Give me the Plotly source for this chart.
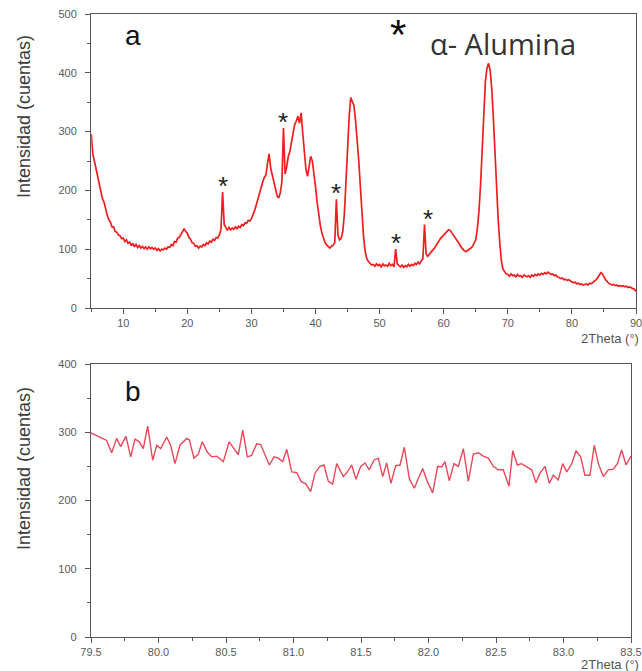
import plotly.graph_objects as go
import numpy as np

# ---- Pattern (a): full scan 5-90 deg, 0.25 deg step ----
scan_start_a = 5.0
scan_step_a = 0.25
counts_a = [
    # 5.00 - 9.75
    296, 262, 250, 236, 226, 210, 200, 186, 180, 166, 158, 150, 146, 138, 138, 130, 129, 124, 123, 118,
    # 10.00 - 14.75
    119, 113, 116, 110, 112, 106, 110, 104, 108, 103, 106, 102, 105, 101, 104, 100, 104, 101, 103, 100,
    # 15.00 - 19.75
    102, 98, 101, 97, 100, 99, 102, 100, 104, 103, 108, 106, 113, 112, 119, 120, 126, 131, 135, 130,
    # 20.00 - 24.75
    127, 120, 117, 111, 110, 105, 106, 102, 105, 104, 108, 106, 111, 109, 114, 112, 117, 115, 120, 119,
    # 25.00 - 29.75
    124, 134, 197, 142, 136, 132, 137, 133, 136, 134, 138, 135, 139, 137, 142, 140, 145, 144, 149, 148,
    # 30.00 - 34.75
    152, 158, 166, 175, 186, 195, 206, 214, 222, 226, 245, 262, 238, 226, 210, 198, 191, 187, 196, 214,
    # 35.00 - 39.75
    306, 228, 240, 258, 266, 282, 298, 312, 318, 326, 314, 332, 298, 266, 236, 224, 240, 258, 250, 230,
    # 40.00 - 44.75
    206, 180, 158, 140, 127, 118, 111, 107, 104, 102, 105, 107, 111, 185, 124, 116, 118, 130, 160, 220,
    # 45.00 - 49.75
    285, 326, 358, 350, 344, 318, 288, 250, 205, 160, 121, 96, 84, 79, 76, 73, 74, 71, 75, 72,
    # 50.00 - 54.75
    74, 70, 75, 72, 73, 71, 76, 72, 74, 70, 100, 75, 72, 70, 73, 69, 72, 70, 74, 71,
    # 55.00 - 59.75
    74, 72, 76, 74, 78, 75, 80, 84, 142, 92, 88, 92, 95, 98, 101, 106, 110, 114, 118, 121,
    # 60.00 - 64.75
    124, 128, 131, 133, 132, 128, 124, 121, 118, 112, 108, 103, 100, 97, 96, 98, 99, 102, 105, 110,
    # 65.00 - 69.75
    116, 135, 165, 210, 265, 330, 385, 408, 416, 404, 372, 322, 262, 200, 150, 110, 80, 66, 61, 58,
    # 70.00 - 74.75
    57, 54, 58, 55, 56, 53, 57, 54, 55, 52, 56, 54, 53, 55, 52, 56, 54, 57, 55, 58,
    # 75.00 - 79.75
    56, 59, 57, 60, 58, 61, 59, 57, 58, 55, 56, 53, 52, 50, 51, 48, 49, 47, 48, 46,
    # 80.00 - 84.75
    45, 43, 44, 41, 42, 40, 41, 39, 40, 41, 39, 42, 41, 43, 45, 48, 51, 55, 60, 58,
    # 85.00 - 89.75
    52, 48, 45, 42, 41, 39, 40, 38, 39, 37, 38, 37, 38, 36, 37, 35, 36, 34, 33, 32,
    # 90.00
    28,
]
two_theta_a = scan_start_a + scan_step_a * np.arange(len(counts_a))

# alpha-alumina reflections marked with an asterisk
alumina_2theta = [25.5, 35.0, 43.25, 52.5, 57.5]
alumina_counts = [197, 306, 185, 100, 142]

# ---- Pattern (b): detail 79.5-83.5 deg ----
two_theta_b = [
    79.500, 79.616, 79.653, 79.690, 79.720, 79.759, 79.794, 79.826, 79.858, 79.887,
    79.920, 79.957, 79.987, 80.016, 80.061, 80.090, 80.122, 80.159, 80.209, 80.228,
    80.263, 80.295, 80.324, 80.361, 80.394, 80.431, 80.480, 80.524, 80.559, 80.591,
    80.624, 80.658, 80.690, 80.727, 80.757, 80.789, 80.821, 80.856, 80.887, 80.920,
    80.950, 80.987, 81.024, 81.056, 81.093, 81.127, 81.159, 81.196, 81.226, 81.258,
    81.290, 81.320, 81.344, 81.369, 81.399, 81.431, 81.463, 81.498, 81.530, 81.561,
    81.596, 81.628, 81.661, 81.690, 81.722, 81.757, 81.789, 81.821, 81.858, 81.895,
    81.924, 81.957, 81.991, 82.031, 82.068, 82.098, 82.122, 82.154, 82.189, 82.221,
    82.258, 82.295, 82.332, 82.369, 82.406, 82.443, 82.480, 82.517, 82.554, 82.596,
    82.624, 82.658, 82.690, 82.727, 82.764, 82.796, 82.826, 82.863, 82.895, 82.924,
    82.961, 82.994, 83.024, 83.061, 83.093, 83.127, 83.159, 83.196, 83.228, 83.258,
    83.295, 83.332, 83.369, 83.399, 83.431, 83.463, 83.500,
]
counts_b = [
    299, 288, 270, 291, 279, 294, 264, 290, 286, 276,
    309, 259, 281, 276, 293, 281, 254, 281, 291, 289,
    262, 268, 286, 271, 264, 265, 257, 286, 276, 267,
    303, 264, 266, 283, 282, 268, 252, 264, 262, 257,
    275, 242, 241, 228, 224, 213, 240, 250, 252, 228,
    224, 254, 245, 235, 242, 252, 231, 250, 255, 245,
    259, 262, 235, 255, 225, 251, 252, 278, 232, 218,
    232, 247, 228, 211, 250, 249, 257, 229, 254, 250,
    276, 228, 268, 270, 265, 262, 250, 245, 245, 221,
    273, 252, 254, 250, 245, 226, 240, 250, 225, 237,
    230, 254, 242, 254, 273, 264, 237, 237, 281, 254,
    235, 245, 246, 254, 274, 252, 265,
]

# tick definitions
ticks_a_x = [10, 20, 30, 40, 50, 60, 70, 80, 90]
ticks_a_y = [0, 100, 200, 300, 400, 500]
ticks_b_x = [79.5, 80.0, 80.5, 81.0, 81.5, 82.0, 82.5, 83.0, 83.5]
ticks_b_y = [0, 100, 200, 300, 400]

W, H = 642, 671
AXIS_COLOR = "#555555"
SANS = "Liberation Sans, Arial, sans-serif"
TICK_FONT = dict(family=SANS, size=11, color="#5a5a5a")
TITLE_FONT = dict(family=SANS, size=18, color="#3a3a3a")

fig = go.Figure()
fig.add_trace(go.Scatter(
    x=two_theta_a, y=counts_a, mode="lines",
    line=dict(color="#f01e1e", width=1.7),
    xaxis="x", yaxis="y", showlegend=False, hoverinfo="skip",
))
fig.add_trace(go.Scatter(
    x=two_theta_b, y=counts_b, mode="lines",
    line=dict(color="#e8485a", width=1.4),
    xaxis="x2", yaxis="y2", showlegend=False, hoverinfo="skip",
))


def px_x(p):
    return p / W


def px_y(p):
    return 1 - p / H


common_axis = dict(
    showline=True, linecolor=AXIS_COLOR, linewidth=1.3, mirror=True,
    showgrid=False, zeroline=False, ticks="outside", ticklen=5,
    tickcolor=AXIS_COLOR, tickwidth=1, tickfont=TICK_FONT, automargin=False,
    ticklabeloverflow="allow",
)

fig.update_layout(
    width=W, height=H,
    margin=dict(l=0, r=0, t=0, b=0),
    paper_bgcolor="white", plot_bgcolor="white",
    xaxis=dict(
        common_axis, domain=[px_x(91.2), px_x(636)], anchor="y",
        range=[5, 90], tickvals=ticks_a_x,
        minor=dict(ticks="outside", ticklen=3, tickvals=[5, 15, 25, 35, 45, 55, 65, 75, 85],
                   tickcolor=AXIS_COLOR),
        ticklabelstandoff=0,
    ),
    yaxis=dict(
        common_axis, domain=[px_y(308), px_y(14)], anchor="x",
        range=[0, 500], tickvals=ticks_a_y,
        minor=dict(ticks="outside", ticklen=3, dtick=50, tickcolor=AXIS_COLOR),
        ticklabelstandoff=6,
    ),
    xaxis2=dict(
        common_axis, domain=[px_x(91), px_x(631)], anchor="y2",
        range=[79.5, 83.5], tickvals=ticks_b_x, tickformat=".1f",
        minor=dict(ticks="outside", ticklen=3, dtick=0.25, tickcolor=AXIS_COLOR),
        ticklabelstandoff=0,
    ),
    yaxis2=dict(
        common_axis, domain=[px_y(637), px_y(364)], anchor="x2",
        range=[0, 400], tickvals=ticks_b_y,
        minor=dict(ticks="outside", ticklen=3, dtick=50, tickcolor=AXIS_COLOR),
        ticklabelstandoff=6,
    ),
)

annotations = []
# y-axis titles
for yc in (px_y(117), px_y(469)):
    annotations.append(dict(
        text="Intensidad (cuentas)", xref="paper", yref="paper",
        x=px_x(24), y=yc, textangle=-90, showarrow=False,
        font=TITLE_FONT, xanchor="center", yanchor="middle",
    ))
# x-axis titles
for yc in (px_y(338), px_y(664)):
    annotations.append(dict(
        text="2Theta (°)", xref="paper", yref="paper",
        x=px_x(641), y=yc, showarrow=False, xanchor="right", yanchor="middle",
        font=dict(family=SANS, size=13, color="#555555"),
    ))
# panel letters
annotations.append(dict(text="a", xref="paper", yref="paper", x=px_x(133), y=px_y(36),
                        showarrow=False, xanchor="center", yanchor="middle",
                        font=dict(family=SANS, size=28, color="#111111")))
annotations.append(dict(text="b", xref="paper", yref="paper", x=px_x(133), y=px_y(391),
                        showarrow=False, xanchor="center", yanchor="middle",
                        font=dict(family=SANS, size=28, color="#111111")))
# legend key for the asterisk
annotations.append(dict(text="*", xref="paper", yref="paper", x=px_x(398), y=px_y(34),
                        showarrow=False, xanchor="center", yanchor="middle",
                        font=dict(family=SANS, size=42, color="#111111")))
annotations.append(dict(text="α- Alumina", xref="paper", yref="paper", x=px_x(428), y=px_y(44),
                        showarrow=False, xanchor="left", yanchor="middle",
                        font=dict(family="Open Sans, sans-serif", size=29, color="#333333")))
# asterisks over alpha-alumina reflections
for xp, yp in zip(alumina_2theta, alumina_counts):
    annotations.append(dict(text="*", x=xp, y=yp, xref="x", yref="y",
                            showarrow=False, xanchor="center", yanchor="middle", yshift=6,
                            font=dict(family=SANS, size=26, color="#222222")))

fig.update_layout(annotations=annotations)
fig.write_html("out.html")
